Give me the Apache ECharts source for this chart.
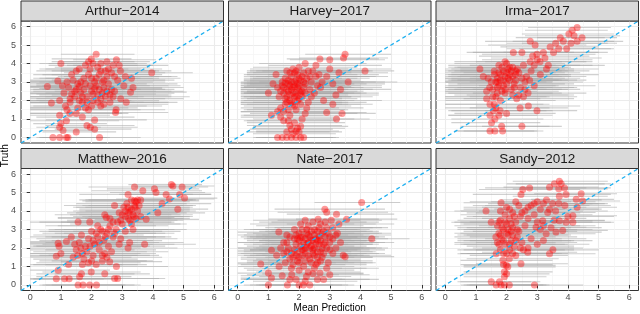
<!DOCTYPE html>
<html><head><meta charset="utf-8">
<script src="https://cdn.jsdelivr.net/npm/echarts@6/dist/echarts.min.js"></script>
<style>html,body{margin:0;padding:0;background:#fff}#c{width:640px;height:314px}</style>
</head><body><div id="c"></div>
<script>
// Facet titles
const panelNames = ['Arthur\u22122014','Harvey\u22122017','Irma\u22122017','Matthew\u22122016','Nate\u22122017','Sandy\u22122012'];
const majorTicks = [0,1,2,3,4,5,6];
const minorTicks = [0.5,1.5,2.5,3.5,4.5,5.5];
const axisMin = -0.3, axisMax = 6.3;
const xTitle = 'Mean Prediction';
const yTitle = 'Truth';

// rows: [mean prediction, truth, interval low, interval high]
const arthur = [
[2.15,4.5,1.0,3.4],[1.99,4.25,0.7,3.3],[2.81,4.2,1.4,4.1],[1.0,4.0,0.3,2.2],[3.96,3.5,2.3,5.3],[3.3,3.2,1.7,4.9],
[3.35,2.7,1.6,5.0],[3.27,2.45,1.5,5.1],[3.13,1.9,1.4,4.8],[2.78,1.35,1.2,4.5],[2.8,1.5,1.0,4.4],[2.94,3.6,1.3,4.6],
[0.56,2.75,0.0,2.3],[0.69,1.86,0.0,2.4],[0.9,3.05,0.0,2.6],[0.96,2.0,0.0,2.7],[0.96,1.2,0.0,2.6],[1.0,0.75,0.1,2.5],
[0.96,0.55,0.2,2.3],[1.07,0.38,0.3,2.2],[1.18,0.9,0.0,2.9],[1.5,0.3,0.4,2.8],[1.7,1.1,0.2,3.4],[1.85,0.65,0.5,3.4],
[1.96,0.55,0.6,3.5],[2.1,0.45,0.8,3.3],[2.1,0.95,0.5,3.8],[1.29,1.3,0.0,3.0],[0.74,0.0,0.2,1.8],[0.96,0.0,0.3,2.1],
[1.18,0.0,0.4,2.6],[1.23,0.0,0.3,2.5],[2.26,0.0,0.9,3.6],[1.2,3.0,0.0,3.0],[1.35,3.4,0.1,3.1],[1.5,2.6,0.0,3.3],
[1.6,3.7,0.3,3.2],[1.7,2.2,0.0,3.5],[1.8,2.9,0.2,3.8],[1.9,3.4,0.4,3.9],[2.0,2.5,0.1,4.1],[2.1,3.0,0.3,4.0],
[2.2,3.8,0.8,3.9],[2.3,2.1,0.2,4.4],[2.4,2.7,0.6,4.3],[2.5,3.3,0.9,4.2],[2.6,2.3,0.7,4.6],[2.7,3.9,1.2,4.0],
[1.1,2.4,0.0,2.8],[1.3,1.9,0.0,3.1],[1.45,2.2,0.0,3.0],[1.55,1.6,0.0,3.2],[1.65,3.0,0.0,3.4],[1.75,2.6,0.1,3.6],
[1.85,1.9,0.0,3.7],[1.95,3.7,0.5,3.6],[2.05,2.0,0.2,4.2],[2.15,2.8,0.4,4.5],[2.25,3.4,0.7,4.3],[2.35,2.4,0.5,4.7],
[2.45,3.6,1.0,4.2],[2.55,2.9,0.8,4.8],[2.65,3.5,1.1,4.4],[2.75,2.5,1.0,5.0],[2.85,3.1,1.2,4.7],[1.25,2.7,0.0,3.0],
[1.4,3.1,0.0,3.2],[1.6,2.0,0.0,3.3],[1.8,3.9,0.6,3.5],[2.0,3.2,0.3,4.0],[2.2,2.3,0.3,4.5],[2.4,3.1,0.7,4.4],
[2.6,1.9,0.8,4.5],[1.9,1.5,0.0,3.6],[1.5,1.3,0.0,3.2],[2.3,1.7,0.6,4.3],[1.35,2.35,0.0,3.0],[2.7,2.2,1.1,5.2],
[1.15,1.7,0.0,2.9],[2.05,4.0,0.6,3.5],
[1.45,2.5,0.0,3.1],[1.55,2.9,0.0,3.2],[1.65,2.4,0.0,3.3],[1.75,3.2,0.1,3.6],[1.85,2.2,0.0,3.7],[1.95,2.8,0.2,3.9],
[2.05,2.35,0.2,4.1],[2.15,3.2,0.5,4.2],[2.25,2.6,0.4,4.4],[2.35,3.0,0.6,4.4],[2.45,2.2,0.5,4.6],[2.55,3.7,1.0,4.3],
[2.65,2.6,0.8,4.7],[2.75,3.3,1.1,4.6],[1.7,1.9,0.0,3.4],[1.8,1.6,0.0,3.5],[2.0,1.7,0.1,3.8],[2.2,1.9,0.3,4.2],
[2.4,1.8,0.6,4.5],[1.5,3.6,0.2,3.1],[1.9,4.1,0.7,3.4],[2.3,4.0,0.9,3.8],[2.5,4.1,1.1,3.9],[2.9,3.9,1.4,4.5],
[3.05,2.8,1.3,4.9],[3.1,3.3,1.4,4.8],[1.3,2.1,0.0,3.0],[1.2,1.5,0.0,2.9],[1.05,2.8,0.0,2.7],[2.95,2.1,1.3,5.0],
[2.1,2.65,0.3,4.3],[1.6,2.75,0.0,3.4],[2.5,2.5,0.8,4.6],[2.3,3.6,0.7,4.1]
];
const harvey = [
[3.5,4.5,2.2,5.0],[3.45,4.3,2.0,4.9],[3.0,4.2,1.7,4.8],[2.68,4.25,1.6,4.6],[2.55,3.9,1.0,4.7],[4.15,3.6,2.6,5.1],
[3.3,3.5,1.6,4.9],[3.0,3.7,1.5,5.0],[3.6,3.0,1.8,5.2],[3.2,2.3,1.4,4.6],[3.22,1.0,1.6,4.3],[3.4,1.3,1.7,4.5],
[2.9,1.35,1.3,4.2],[3.1,1.8,1.5,4.4],[2.8,2.0,1.2,4.7],[3.35,2.6,1.5,5.0],[2.75,3.0,1.1,4.8],[2.9,3.3,1.3,4.9],
[2.45,3.6,0.8,4.4],[2.2,4.0,0.7,4.2],[1.3,0.0,0.5,2.6],[1.45,0.0,0.6,2.8],[1.6,0.0,0.6,3.0],[1.75,0.0,0.7,3.1],
[1.9,0.0,0.8,3.2],[2.05,0.0,0.9,3.1],[2.15,0.0,1.0,3.3],[1.6,0.3,0.3,3.0],[1.75,0.45,0.4,3.1],[1.9,0.35,0.6,3.3],
[1.7,0.65,0.3,3.4],[1.85,0.8,0.3,3.5],[2.05,0.6,0.5,3.6],[1.5,0.9,0.2,3.2],[2.1,1.0,0.5,3.8],[1.4,1.1,0.1,3.3],
[1.3,1.4,0.1,3.0],[2.2,1.3,0.4,3.9],[1.1,1.2,0.1,2.8],[1.4,1.6,0.1,3.3],[1.55,1.8,0.1,3.4],[1.65,1.5,0.2,3.5],
[1.75,1.9,0.1,3.6],[1.85,1.7,0.2,3.7],[1.95,2.0,0.2,3.8],[2.05,1.8,0.3,4.0],[2.3,1.9,0.5,4.2],[1.35,2.2,0.1,3.2],
[1.5,2.4,0.1,3.3],[1.6,2.6,0.1,3.5],[1.7,2.3,0.1,3.6],[1.8,2.7,0.2,3.7],[1.9,2.4,0.2,3.8],[2.0,2.8,0.3,4.0],
[2.1,2.5,0.3,4.1],[2.2,2.9,0.4,4.2],[2.35,2.6,0.6,4.4],[1.45,3.0,0.1,3.3],[1.55,3.2,0.2,3.4],[1.65,2.9,0.2,3.5],
[1.75,3.3,0.2,3.6],[1.85,3.0,0.3,3.7],[1.95,3.4,0.3,3.9],[2.05,3.1,0.4,4.0],[2.15,3.5,0.5,4.1],[2.25,3.2,0.5,4.3],
[1.6,3.6,0.3,3.4],[1.8,3.7,0.4,3.6],[2.0,3.8,0.5,3.9],[1.7,2.0,0.1,3.5],[1.9,2.2,0.2,3.7],[2.1,2.2,0.4,4.0],
[1.3,2.7,0.1,3.1],[1.15,2.9,0.1,2.9],[1.0,2.4,0.1,2.7],[1.25,3.4,0.2,3.0],[2.4,3.0,0.7,4.5],[2.5,2.4,0.7,4.6],
[2.6,2.8,0.9,4.7],[2.65,3.4,1.0,4.6],[2.4,2.2,0.6,4.4],[1.75,2.6,0.1,3.6],[1.95,2.7,0.2,3.8],[1.65,3.1,0.2,3.5],
[2.0,3.2,0.4,3.9],[1.55,2.1,0.1,3.4],[2.15,2.7,0.4,4.1],[1.85,3.5,0.3,3.7],[1.45,2.8,0.1,3.3],[2.3,3.6,0.6,4.3],
[1.6,2.2,0.1,3.4],[1.7,2.8,0.1,3.5],[1.8,2.4,0.2,3.6],[1.9,3.1,0.2,3.7],[2.0,2.5,0.3,3.9],[1.65,2.5,0.1,3.5],
[1.75,3.0,0.2,3.6],[1.85,2.2,0.2,3.7],[1.95,2.9,0.3,3.8],[2.05,2.4,0.3,4.0],[2.15,3.0,0.4,4.1],[1.5,2.7,0.1,3.3],
[1.55,2.95,0.1,3.4],[1.7,3.5,0.3,3.5],[1.9,3.6,0.4,3.7],[2.1,3.3,0.4,4.0],[2.2,2.4,0.4,4.2],[1.6,1.9,0.1,3.4],
[1.8,1.8,0.1,3.6],[2.0,2.1,0.3,3.9],[1.5,1.4,0.1,3.3],[1.7,1.2,0.2,3.4],[1.9,1.5,0.3,3.6],[2.25,1.6,0.5,4.1],
[1.65,0.9,0.3,3.3],[1.8,0.2,0.5,3.2],[2.0,0.3,0.6,3.4],[1.95,0.5,0.5,3.5],[2.55,3.3,0.9,4.5],[2.7,2.7,1.1,4.7],
[3.1,2.9,1.4,4.8],[2.35,3.3,0.6,4.3],[1.4,2.5,0.1,3.2],[1.85,2.75,0.2,3.7]
];
const irma = [
[4.3,5.95,2.7,5.4],[4.14,5.8,2.6,5.3],[4.03,5.6,2.5,5.5],[4.46,5.4,3.0,5.6],[4.3,5.2,2.8,5.8],[4.1,5.1,2.5,5.6],
[3.75,5.4,2.3,5.2],[3.96,4.8,2.4,5.5],[3.7,4.8,2.0,5.4],[3.42,4.9,1.8,5.0],[3.53,4.6,1.9,5.3],[2.77,5.2,1.3,4.3],
[2.93,5.0,1.4,4.6],[2.99,4.5,1.2,4.9],[3.25,4.3,1.5,5.1],[3.36,3.9,1.7,5.2],[3.09,4.1,1.3,4.8],[2.77,4.1,1.0,4.6],
[2.5,4.6,0.9,4.2],[2.22,4.6,0.7,4.0],[1.13,3.7,0.0,3.0],[1.24,3.3,0.0,3.2],[1.35,2.5,0.0,3.0],[1.35,2.1,0.0,3.1],
[1.46,1.8,0.0,3.2],[1.57,1.45,0.1,3.3],[1.46,1.2,0.1,3.0],[1.62,1.0,0.2,3.2],[1.79,1.45,0.2,3.5],[2.0,1.3,0.3,3.6],
[1.51,0.8,0.2,3.1],[2.99,1.45,1.3,4.3],[2.71,1.7,1.0,4.4],[2.44,1.6,0.8,4.0],[2.33,2.1,0.6,4.2],[2.5,0.6,1.2,3.8],
[1.46,0.35,0.3,2.9],[1.62,0.35,0.4,3.0],[1.87,0.35,0.6,3.2],[1.84,0.6,0.5,3.4],[1.5,3.0,0.0,3.3],[1.6,3.4,0.0,3.4],
[1.7,2.7,0.0,3.5],[1.8,3.1,0.0,3.7],[1.9,3.6,0.1,3.8],[2.0,2.9,0.1,3.9],[2.1,3.4,0.2,4.0],[2.2,3.8,0.4,4.1],
[2.3,3.1,0.4,4.3],[2.4,3.5,0.6,4.4],[2.55,3.9,0.8,4.4],[2.65,3.3,0.9,4.6],[2.8,3.6,1.0,4.7],[2.9,3.9,1.1,4.8],
[1.55,2.6,0.0,3.3],[1.65,2.2,0.0,3.4],[1.75,3.5,0.0,3.6],[1.85,2.5,0.0,3.7],[1.95,3.3,0.1,3.8],[2.05,3.7,0.2,3.9],
[2.15,2.6,0.3,4.0],[2.25,2.9,0.4,4.2],[2.45,2.7,0.6,4.3],[2.6,3.0,0.8,4.5],[2.7,2.4,0.9,4.6],[1.4,3.2,0.0,3.2],
[1.75,3.9,0.1,3.6],[2.0,4.0,0.3,3.9],[1.65,3.0,0.0,3.5],[1.9,2.8,0.1,3.7],[2.1,3.1,0.2,4.0],[2.35,3.7,0.5,4.2],
[1.8,2.0,0.0,3.6],[2.2,2.3,0.3,4.0],[1.6,1.8,0.0,3.4],[2.55,2.2,0.8,4.3],[2.9,2.8,1.1,4.9],[3.1,3.4,1.3,5.0],
[1.95,2.4,0.1,3.8],[2.3,3.4,0.5,4.1],[1.7,3.2,0.0,3.5],[3.0,4.2,1.2,4.8],
[1.6,3.6,0.0,3.4],[1.7,3.0,0.0,3.5],[1.8,3.4,0.1,3.7],[1.9,3.1,0.1,3.8],[2.0,3.5,0.2,3.9],[2.1,3.8,0.3,4.0],
[2.2,3.3,0.4,4.1],[2.3,3.6,0.5,4.2],[1.75,2.8,0.0,3.6],[1.85,3.8,0.1,3.7],[1.95,2.6,0.1,3.8],[2.05,3.2,0.2,3.9],
[2.15,3.6,0.3,4.0],[2.25,2.7,0.4,4.2],[1.55,2.2,0.0,3.3],[1.65,1.6,0.0,3.4],[1.75,1.2,0.1,3.5],[1.7,2.4,0.0,3.5],
[2.4,2.3,0.7,4.2],[2.6,2.6,0.9,4.4],[2.5,3.2,0.8,4.4],[2.75,3.1,1.0,4.6],[3.2,4.6,1.5,5.0],[3.6,5.1,2.0,5.3],
[3.85,5.2,2.2,5.5],[4.2,5.5,2.6,5.7],[3.3,3.7,1.6,5.0],[2.85,4.4,1.1,4.7],[1.45,2.7,0.0,3.2],[1.95,4.1,0.3,3.8]
];
const matthew = [
[4.6,5.43,3.2,5.6],[4.65,5.35,3.3,6.0],[4.95,5.3,3.4,5.8],[4.05,5.2,2.5,5.5],[4.1,5.0,2.6,5.7],[4.43,4.9,2.9,5.9],
[4.54,4.65,2.8,6.0],[4.87,4.9,3.3,5.9],[5.03,4.7,3.6,6.1],[4.81,4.1,3.2,5.8],[4.16,3.9,2.4,5.7],[3.78,3.55,2.1,5.5],
[3.4,5.3,1.9,5.4],[3.67,5.1,2.0,5.6],[3.19,4.9,1.6,5.3],[3.4,4.55,1.7,5.5],[3.19,4.2,1.5,5.2],[2.75,4.3,1.1,5.0],
[2.43,3.8,0.8,4.6],[2.48,3.65,0.9,4.7],[1.94,3.4,0.3,4.0],[1.56,3.4,0.0,3.6],[1.67,2.7,0.1,3.7],[1.34,2.6,0.0,3.2],
[1.18,2.35,0.0,3.0],[0.91,2.25,0.0,2.8],[0.94,2.1,0.0,2.6],[1.0,1.7,0.0,2.7],[0.85,1.55,0.0,2.5],[0.91,0.8,0.0,2.6],
[0.85,0.33,0.0,2.4],[1.12,0.33,0.0,2.7],[1.27,0.33,0.1,2.9],[1.61,0.45,0.2,3.3],[1.56,0.0,0.3,3.0],[1.72,0.0,0.4,3.1],
[1.94,0.0,0.5,3.4],[2.16,0.0,0.7,3.6],[1.67,0.6,0.2,3.4],[1.99,0.7,0.4,3.6],[2.43,0.6,0.8,3.9],[2.75,0.35,1.2,4.2],
[2.85,0.35,1.3,4.4],[2.81,1.0,1.1,4.5],[2.59,1.26,1.0,4.3],[2.43,1.7,0.8,4.1],[3.19,2.0,1.5,4.8],[3.24,2.3,1.6,5.0],
[3.73,2.2,2.1,5.4],[3.35,3.0,1.7,5.1],[3.1,3.7,1.4,5.0],[3.2,3.9,1.5,5.1],[3.3,4.1,1.6,5.2],[3.4,4.3,1.7,5.3],
[3.5,4.0,1.8,5.4],[3.25,3.5,1.6,5.0],[3.35,3.8,1.6,5.3],[3.45,4.5,1.8,5.2],[3.0,3.3,1.3,4.9],[2.9,3.9,1.2,4.8],
[3.05,4.2,1.4,4.9],[2.8,3.0,1.1,4.7],[2.7,2.6,1.0,4.6],[2.6,3.2,0.9,4.5],[2.5,2.8,0.8,4.4],[2.4,2.4,0.7,4.3],
[2.3,3.0,0.6,4.2],[2.2,2.6,0.5,4.1],[2.1,2.2,0.4,4.0],[2.0,2.9,0.3,3.9],[1.9,2.5,0.2,3.8],[1.8,2.1,0.1,3.7],
[1.7,1.7,0.0,3.6],[1.6,2.3,0.0,3.5],[1.5,1.9,0.0,3.4],[1.4,1.5,0.0,3.3],[2.05,1.6,0.3,3.9],[2.25,1.9,0.5,4.1],
[2.55,2.1,0.8,4.4],[2.65,1.8,1.0,4.5],[2.35,1.3,0.7,4.0],[2.15,1.1,0.5,3.8],[1.9,1.2,0.2,3.6],[1.75,1.4,0.1,3.5],
[2.95,2.5,1.2,4.8],[3.1,2.9,1.4,4.9],[2.6,3.6,0.9,4.6],[2.85,3.4,1.2,4.7],[3.45,3.6,1.8,5.2],[2.2,3.2,0.5,4.1],
[1.25,1.1,0.0,3.0],[3.6,4.6,1.9,5.5],
[3.15,4.4,1.5,5.1],[3.25,4.0,1.6,5.2],[3.3,4.6,1.6,5.3],[3.38,3.7,1.7,5.2],[3.42,4.2,1.8,5.3],[3.5,4.6,1.8,5.4],
[3.2,3.6,1.5,5.0],[3.1,4.0,1.4,5.0],[3.0,3.8,1.3,4.9],[2.95,3.5,1.2,4.8],[3.3,3.3,1.6,5.1],[2.7,3.4,1.0,4.6],
[2.75,2.8,1.1,4.7],[2.55,3.0,0.8,4.5],[2.45,2.6,0.7,4.4],[2.35,2.9,0.6,4.3],[2.25,2.3,0.5,4.2],[2.15,2.8,0.4,4.1],
[2.05,2.4,0.3,4.0],[1.95,2.1,0.2,3.9],[1.85,1.8,0.1,3.8],[1.65,2.0,0.0,3.6],[1.55,1.6,0.0,3.5],[1.45,2.2,0.0,3.4],
[2.35,1.6,0.6,4.2],[2.5,1.5,0.8,4.3],[2.0,1.3,0.3,3.8],[1.7,1.1,0.1,3.5],[2.9,2.2,1.2,4.7],[3.6,3.7,1.9,5.3],
[3.55,4.3,1.9,5.4],[4.3,4.4,2.7,5.9]
];
const nate = [
[4.04,4.46,2.5,5.3],[4.37,2.5,2.8,5.6],[2.84,4.1,1.2,4.8],[2.9,3.93,1.3,4.9],[2.62,3.56,1.0,4.6],[3.22,3.83,1.6,5.1],
[3.55,3.56,1.9,5.2],[0.75,1.14,0.0,2.4],[1.0,0.64,0.0,2.6],[1.1,0.37,0.1,2.7],[1.0,0.0,0.2,2.5],[1.62,0.0,0.4,3.1],
[2.0,0.0,0.6,3.4],[2.14,0.0,0.7,3.6],[2.35,0.0,0.8,3.8],[1.45,0.5,0.1,3.0],[1.76,0.55,0.3,3.3],[2.24,0.46,0.7,3.7],
[2.68,0.64,1.1,4.1],[3.0,0.55,1.4,4.3],[1.34,2.86,0.0,3.0],[1.1,1.88,0.0,2.8],[1.27,1.61,0.0,2.9],[3.44,1.61,1.8,5.0],
[3.5,1.53,1.9,5.1],[1.5,2.3,0.0,3.2],[1.6,1.8,0.0,3.3],[1.7,2.6,0.1,3.4],[1.8,1.5,0.1,3.5],[1.9,2.2,0.2,3.6],
[2.0,2.8,0.3,3.8],[2.1,1.9,0.4,3.9],[2.2,2.5,0.5,4.0],[2.3,1.6,0.6,4.1],[2.4,2.1,0.7,4.2],[2.5,2.7,0.8,4.3],
[2.6,1.8,0.9,4.4],[2.7,2.4,1.0,4.5],[2.8,2.9,1.1,4.6],[2.9,2.0,1.2,4.7],[3.0,2.6,1.3,4.8],[3.1,3.1,1.4,4.9],
[1.55,1.2,0.0,3.2],[1.75,0.9,0.2,3.4],[1.95,1.3,0.3,3.6],[2.15,1.0,0.5,3.8],[2.35,1.4,0.6,4.0],[2.55,1.1,0.8,4.2],
[2.75,1.5,1.0,4.4],[2.95,1.2,1.2,4.5],[1.85,3.0,0.2,3.6],[2.05,3.3,0.4,3.8],[2.25,3.0,0.5,4.0],[2.45,3.4,0.7,4.2],
[2.65,3.1,0.9,4.4],[2.85,3.4,1.1,4.6],[3.05,3.5,1.3,4.7],[3.25,2.8,1.5,5.0],[3.35,2.3,1.6,5.1],[3.2,2.0,1.5,4.9],
[1.65,2.0,0.0,3.4],[1.85,2.5,0.2,3.5],[2.05,2.1,0.3,3.8],[2.25,2.8,0.5,4.0],[2.45,2.4,0.7,4.2],[2.65,2.2,0.9,4.4],
[2.85,2.6,1.1,4.6],[1.95,1.8,0.2,3.7],[2.15,2.3,0.4,3.9],[2.35,2.0,0.6,4.1],[2.55,2.5,0.8,4.3],[2.75,2.0,1.0,4.5],
[2.4,2.9,0.7,4.2],[2.2,1.7,0.5,4.0],[2.6,2.9,0.9,4.4],[1.8,1.1,0.1,3.5],[2.5,0.9,0.8,4.2],[2.0,0.8,0.3,3.8],
[2.3,0.7,0.6,4.0],[2.9,0.9,1.2,4.6],[1.9,2.7,0.2,3.6],[1.4,2.0,0.0,3.1],[3.1,1.7,1.4,4.8],[2.7,1.3,1.0,4.4],
[2.1,2.6,0.4,3.9],[2.3,2.3,0.6,4.1],[2.5,2.0,0.8,4.3],[1.7,1.4,0.1,3.4],[2.0,1.5,0.3,3.8],[2.8,2.2,1.1,4.6],
[3.3,3.3,1.6,5.1],[2.6,1.5,0.9,4.4],[2.2,3.5,0.5,4.0],[1.6,2.7,0.0,3.3],[2.45,1.7,0.7,4.2],[2.0,2.4,0.3,3.8],
[1.9,0.3,0.2,3.5],[2.8,0.3,1.1,4.6],[1.5,1.7,0.0,3.2],[3.0,2.3,1.3,4.8],
[1.85,1.9,0.2,3.6],[1.95,2.5,0.3,3.7],[2.05,2.6,0.3,3.9],[2.15,1.9,0.4,4.0],[2.25,2.2,0.5,4.1],[2.35,2.6,0.6,4.2],
[2.45,1.9,0.7,4.3],[2.55,2.2,0.8,4.4],[2.65,2.6,0.9,4.5],[2.75,2.8,1.0,4.6],[2.85,2.3,1.1,4.6],[2.95,2.8,1.2,4.7],
[2.2,2.0,0.5,4.0],[2.3,2.7,0.6,4.1],[2.4,2.4,0.7,4.2],[2.5,1.6,0.8,4.3],[2.6,2.4,0.9,4.4],[2.7,1.8,1.0,4.5],
[2.1,1.6,0.4,3.9],[1.9,1.6,0.2,3.7],[2.0,1.2,0.3,3.8],[2.2,1.3,0.5,4.0],[2.4,1.2,0.7,4.2],[2.6,1.2,0.9,4.4],
[2.8,1.7,1.1,4.6],[3.0,1.9,1.3,4.8],[1.75,1.7,0.1,3.5],[1.6,2.3,0.0,3.3],[2.1,3.0,0.4,3.9],[2.3,3.2,0.6,4.1],
[2.5,3.0,0.8,4.3],[2.7,3.3,1.0,4.5],[2.9,3.1,1.2,4.7],[3.1,2.5,1.4,4.9],[3.2,2.7,1.5,5.0],[2.6,0.3,0.9,4.3],
[2.2,0.2,0.5,3.9],[1.7,0.3,0.1,3.4],[2.45,0.6,0.8,4.1],[1.35,1.0,0.0,3.0]
];
const sandy = [
[3.72,5.61,2.2,5.3],[3.78,5.47,2.3,5.4],[3.56,5.47,2.0,5.2],[3.4,5.29,1.9,5.0],[3.89,5.25,2.4,5.4],[2.75,5.25,1.3,4.6],
[2.53,5.16,1.1,4.4],[2.47,4.9,0.9,4.3],[1.82,4.45,0.6,3.9],[1.33,4.0,0.3,3.5],[4.43,4.93,2.9,5.6],[4.48,4.54,3.0,5.7],
[4.27,4.63,2.8,5.5],[3.94,4.9,2.4,5.4],[3.72,4.8,2.2,5.3],[1.5,3.39,0.2,3.5],[1.66,1.69,0.4,3.3],[1.88,1.33,0.5,3.5],
[1.99,1.06,0.6,3.6],[2.09,1.42,0.7,3.7],[2.04,0.98,0.6,3.6],[2.47,1.15,1.0,4.0],[2.69,1.77,1.2,4.3],[3.4,1.69,1.9,4.9],
[3.51,1.9,2.0,5.0],[1.93,0.71,0.6,3.5],[1.93,0.44,0.6,3.3],[1.77,0.17,0.5,3.1],[1.5,0.17,0.4,2.8],[1.66,0.0,0.5,3.0],
[1.82,0.0,0.6,3.2],[1.93,0.0,0.7,3.3],[2.09,0.0,0.8,3.4],[2.91,0.0,1.5,4.5],[3.72,3.48,2.1,5.2],[3.94,3.39,2.3,5.4],
[4.16,3.39,2.5,5.5],[4.16,3.74,2.6,5.6],[3.83,2.95,2.2,5.3],[3.61,2.86,2.0,5.1],[3.29,2.77,1.7,4.9],[3.18,3.48,1.6,4.8],
[2.96,3.12,1.4,4.6],[3.34,3.92,1.7,4.9],[1.7,3.2,0.3,3.6],[1.8,3.5,0.4,3.7],[1.9,3.0,0.4,3.8],[2.0,3.3,0.5,3.9],
[2.1,3.6,0.6,4.0],[2.2,3.1,0.7,4.1],[2.3,3.4,0.8,4.2],[2.4,2.9,0.9,4.3],[1.75,2.8,0.3,3.7],[1.85,2.5,0.4,3.8],
[1.95,2.2,0.5,3.9],[2.05,2.7,0.6,4.0],[2.15,2.4,0.6,4.1],[2.25,2.1,0.7,4.2],[2.35,2.6,0.8,4.3],[1.8,4.0,0.5,3.6],
[2.0,4.2,0.6,3.8],[2.2,3.9,0.7,4.0],[2.4,4.3,0.9,4.3],[2.6,4.0,1.1,4.5],[2.7,3.6,1.2,4.6],[2.6,3.2,1.1,4.4],
[2.8,4.3,1.3,4.7],[2.9,3.8,1.4,4.8],[3.0,4.5,1.5,4.9],[3.1,4.1,1.6,5.0],[3.5,4.4,1.9,5.2],[3.6,4.0,2.1,5.3],
[3.3,4.6,1.8,5.1],[2.5,2.3,1.0,4.3],[2.8,2.5,1.3,4.6],[3.0,2.2,1.5,4.7],[3.2,2.4,1.7,4.8],[2.1,1.9,0.6,3.9],
[1.9,1.7,0.5,3.7],[2.3,1.6,0.8,4.0],[2.55,1.9,1.0,4.2],[1.75,2.2,0.3,3.6],[2.45,3.7,0.9,4.3],[3.45,3.1,1.9,5.1],
[3.9,4.3,2.3,5.4],[4.0,3.7,2.4,5.5],[2.15,2.9,0.6,4.0],[1.95,3.8,0.5,3.8],[3.1,3.0,1.6,4.8],[2.7,2.0,1.2,4.5],
[1.75,3.4,0.3,3.7],[1.85,3.1,0.4,3.8],[1.95,3.4,0.5,3.9],[2.05,3.0,0.6,4.0],[2.15,3.3,0.6,4.1],[2.25,3.7,0.7,4.2],
[2.35,3.0,0.8,4.3],[1.8,2.7,0.4,3.7],[1.9,2.4,0.4,3.8],[2.0,2.8,0.5,3.9],[2.1,2.2,0.6,4.0],[2.2,2.7,0.7,4.1],
[2.3,2.4,0.8,4.2],[1.65,2.6,0.3,3.6],[1.7,2.3,0.3,3.6],[1.8,1.9,0.4,3.6],[2.0,1.7,0.5,3.8],[2.2,1.7,0.7,4.0],
[2.1,4.1,0.6,3.9],[2.3,4.5,0.8,4.1],[2.5,3.9,1.0,4.4],[2.7,4.2,1.2,4.6],[2.9,4.4,1.4,4.8],[3.2,4.4,1.7,5.0],
[3.4,4.1,1.8,5.1],[3.7,4.4,2.1,5.3],[3.55,3.5,2.0,5.2],[3.0,3.4,1.5,4.8],[3.2,3.2,1.6,4.9],[2.45,2.0,0.9,4.2],
[1.9,1.1,0.5,3.5],[2.0,0.6,0.6,3.4],[3.7,5.2,2.2,5.3],[4.3,4.2,2.7,5.6]
];
const panels = [arthur, harvey, irma, matthew, nate, sandy];

// layout (pixels)
const colLeft = [21, 228.5, 436];
const rowTop = [21, 168.5];
const PW = 202.5, PH = 122, STRIP = 20;
const FONT = '"Liberation Sans", Arial, Helvetica, sans-serif';

const grids = [], xAxes = [], yAxes = [], series = [], graphics = [];
panels.forEach((rows, i) => {
  const col = i % 3, row = Math.floor(i / 3);
  grids.push({left: colLeft[col], top: rowTop[row], width: PW, height: PH,
    show: true, borderColor: '#333333', borderWidth: 1, backgroundColor: '#ffffff'});
  const showX = row === 1, showY = col === 0;
  const base = (isX, show) => ({
    gridIndex: i, type: 'value', min: axisMin, max: axisMax,
    axisLine: {show: false},
    axisTick: {show: show, customValues: majorTicks, length: 3.5, lineStyle: {color: '#333333', width: 1}},
    axisLabel: {show: show, customValues: majorTicks, margin: isX ? 3 : 5, fontSize: 9, color: '#4D4D4D', fontFamily: FONT},
    splitLine: {show: true, lineStyle: {color: '#EBEBEB', width: 1.1}}
  });
  const minor = () => ({
    gridIndex: i, type: 'value', min: axisMin, max: axisMax,
    axisLine: {show: false},
    axisTick: {show: false, customValues: minorTicks},
    axisLabel: {show: false, customValues: minorTicks},
    splitLine: {show: true, lineStyle: {color: '#F3F3F3', width: 0.7}}
  });
  xAxes.push(Object.assign(minor(), {position: 'top'}));
  xAxes.push(Object.assign(base(true, showX), {position: 'bottom'}));
  yAxes.push(Object.assign(minor(), {position: 'right'}));
  yAxes.push(Object.assign(base(false, showY), {position: 'left'}));
  const xi = 2 * i + 1, yi = 2 * i + 1;
  series.push({
    type: 'custom', xAxisIndex: xi, yAxisIndex: yi, data: rows, z: 2,
    encode: {x: [0, 2, 3], y: 1},
    renderItem: (params, api) => {
      const y = api.value(1), lo = api.value(2), hi = api.value(3);
      const p1 = api.coord([lo, y]), p2 = api.coord([hi, y]);
      return {type: 'line', shape: {x1: p1[0], y1: p1[1], x2: p2[0], y2: p2[1]},
        style: {stroke: 'rgba(170,170,170,0.55)', lineWidth: 1.1}};
    }
  });
  series.push({
    type: 'scatter', xAxisIndex: xi, yAxisIndex: yi, z: 3,
    data: rows.map(r => [r[0], r[1]]), symbol: 'circle', symbolSize: 7,
    itemStyle: {color: 'rgba(255,0,0,0.5)', borderWidth: 0}
  });
  series.push({
    type: 'line', xAxisIndex: xi, yAxisIndex: yi, z: 4, symbol: 'none',
    data: [[axisMin, axisMin], [axisMax, axisMax]],
    lineStyle: {color: '#1FB0F0', width: 1.3, type: [4, 3]}
  });
  const sx = colLeft[col], sy = rowTop[row] - STRIP;
  graphics.push({type: 'rect', shape: {x: sx, y: sy, width: PW, height: STRIP},
    style: {fill: '#D9D9D9', stroke: '#333333', lineWidth: 1}, z: 10});
  graphics.push({type: 'text', x: sx + PW / 2, y: sy + STRIP / 2 + 0.5, z: 11,
    style: {text: panelNames[i], fontSize: 13.5, fill: '#1A1A1A', fontFamily: FONT,
      align: 'center', verticalAlign: 'middle'}});
});
graphics.push({type: 'text', x: (colLeft[0] + colLeft[2] + PW) / 2, y: 308, z: 11,
  style: {text: xTitle, fontSize: 10, fill: '#000', fontFamily: FONT, align: 'center', verticalAlign: 'middle'}});
graphics.push({type: 'text', x: 5, y: (rowTop[0] + rowTop[1] + PH) / 2, rotation: Math.PI / 2, z: 11,
  style: {text: yTitle, fontSize: 10, fill: '#000', fontFamily: FONT, align: 'center', verticalAlign: 'middle'}});

const chart = echarts.init(document.getElementById('c'), null, {renderer: 'canvas'});
chart.setOption({
  animation: false, backgroundColor: '#ffffff',
  textStyle: {fontFamily: FONT},
  grid: grids, xAxis: xAxes, yAxis: yAxes, series: series, graphic: graphics
});
</script></body></html>
